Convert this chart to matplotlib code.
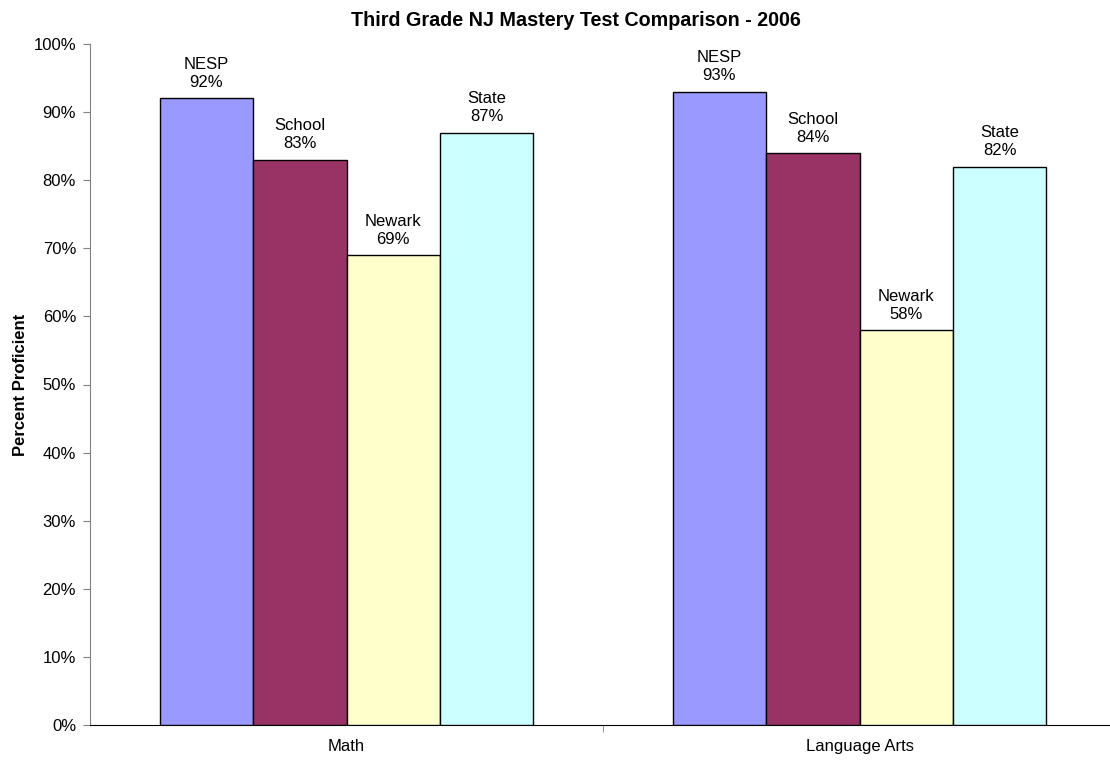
import numpy as np
import matplotlib.pyplot as plt
from matplotlib.ticker import FuncFormatter, FixedLocator

plt.rcParams['font.family'] = ['Liberation Sans', 'DejaVu Sans']

# chart data
subjects = ['Math', 'Language Arts']
groups = ['NESP', 'School', 'Newark', 'State']
nesp = [92, 93]
school = [83, 84]
newark = [69, 58]
state = [87, 82]
colours = ['#9999FF', '#993366', '#FFFFCC', '#CCFFFF']

values = [nesp, school, newark, state]

fig = plt.figure(figsize=(11.1, 7.6), dpi=100)
ax = fig.add_axes([90 / 1110, 35 / 760, 1026 / 1110, 681 / 760])

x = np.arange(len(subjects))
width = 0.182
offsets = (np.arange(len(groups)) - 1.5) * width

for grp, vals, col, off in zip(groups, values, colours, offsets):
    bars = ax.bar(x + off, vals, width, color=col, edgecolor='black',
                  linewidth=1.0, zorder=3)
    for b, v in zip(bars, vals):
        ax.annotate(f'{grp}\n{v}%', (b.get_x() + b.get_width() / 2, v),
                    xytext=(0, 6), textcoords='offset points',
                    ha='center', va='bottom', fontsize=12,
                    linespacing=1.25)

ax.set_xlim(-0.5, 1.5)
ax.set_ylim(0, 100)
ax.set_yticks(range(0, 101, 10))
ax.yaxis.set_major_formatter(FuncFormatter(lambda v, p: f'{int(v)}%'))
ax.set_xticks(x)
ax.set_xticklabels(subjects, fontsize=12)
ax.xaxis.set_minor_locator(FixedLocator([0.5]))
ax.tick_params(axis='x', which='major', length=0, pad=10)
ax.tick_params(axis='x', which='minor', length=5, direction='out',
               color='#808080')
ax.tick_params(axis='y', length=5, direction='out', color='#808080',
               labelsize=12, pad=5)

for s in ['top', 'right']:
    ax.spines[s].set_visible(False)
ax.spines['left'].set_color('#808080')
ax.spines['bottom'].set_color('black')

ax.set_ylabel('Percent Proficient', fontsize=12, fontweight='bold',
              labelpad=4)
fig.text(576 / 1110, 1 - 20 / 760,
         'Third Grade NJ Mastery Test Comparison - 2006',
         ha='center', va='center', fontsize=14.2, fontweight='bold')

fig.savefig('out.png', dpi=100, facecolor='white')
